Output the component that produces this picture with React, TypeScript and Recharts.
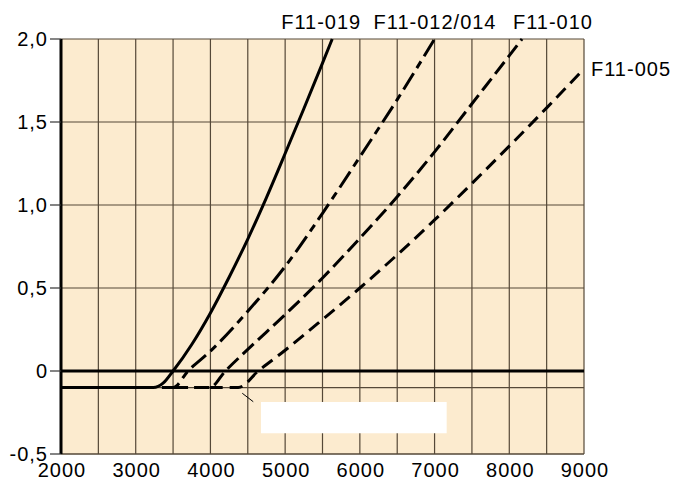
import React from 'react'
import { LineChart, Line, XAxis, YAxis, CartesianGrid, ReferenceLine, ReferenceArea } from 'recharts'

const xTicks = [2000, 2500, 3000, 3500, 4000, 4500, 5000, 5500, 6000, 6500, 7000, 7500, 8000, 8500, 9000]
const yTicks = [-0.5, -0.1, 0, 0.5, 1, 1.5, 2]

const f11_019 = [
  { x: 2000, y: -0.1 }, { x: 3235, y: -0.1 }, { x: 3370, y: -0.072 }, { x: 3500, y: 0 },
  { x: 3750, y: 0.16 }, { x: 4000, y: 0.35 }, { x: 4250, y: 0.565 }, { x: 4500, y: 0.795 },
  { x: 4750, y: 1.045 }, { x: 5000, y: 1.31 }, { x: 5250, y: 1.58 }, { x: 5500, y: 1.855 },
  { x: 5630, y: 2.0 },
]
const f11_012 = [
  { x: 3350, y: -0.1 }, { x: 3500, y: -0.1 }, { x: 3700, y: 0 }, { x: 4000, y: 0.12 },
  { x: 4500, y: 0.36 }, { x: 5000, y: 0.63 }, { x: 5500, y: 0.95 }, { x: 6000, y: 1.29 },
  { x: 6500, y: 1.635 }, { x: 7000, y: 2.0 },
]
const f11_010 = [
  { x: 3500, y: -0.1 }, { x: 3990, y: -0.1 }, { x: 4200, y: 0 }, { x: 4500, y: 0.13 },
  { x: 5000, y: 0.34 }, { x: 5500, y: 0.56 }, { x: 6000, y: 0.8 }, { x: 6500, y: 1.05 },
  { x: 7000, y: 1.32 }, { x: 7500, y: 1.61 }, { x: 8000, y: 1.9 }, { x: 8170, y: 2.0 },
]
const f11_005 = [
  { x: 3990, y: -0.1 }, { x: 4373, y: -0.1 }, { x: 4640, y: 0 }, { x: 5000, y: 0.125 },
  { x: 5500, y: 0.31 }, { x: 6000, y: 0.5 }, { x: 6500, y: 0.7 }, { x: 7000, y: 0.91 },
  { x: 7500, y: 1.13 }, { x: 8000, y: 1.355 }, { x: 8500, y: 1.585 }, { x: 9000, y: 1.82 },
]

const seriesNames = ['F11-019', 'F11-012/014', 'F11-010', 'F11-005']

const FONT = '"Liberation Sans", Arial, Helvetica, sans-serif'
const GRID = '#554838'

function YTick({ x, y, payload }: any) {
  const v = payload.value
  if (Math.abs(v + 0.1) < 1e-6) return <g />
  const label = v === 0 ? '0' : v.toFixed(1).replace('.', ',')
  return (
    <g>
      <line x1={x - 11} x2={x} y1={y} y2={y} stroke="#333" strokeWidth={1.2} />
      <text x={x - 13} y={y + 7} textAnchor="end" fontSize={20} fontFamily={FONT} letterSpacing={1} fill="#000">
        {label}
      </text>
    </g>
  )
}

function XTick({ x, y, payload }: any) {
  if (payload.value % 1000 !== 0) return <g />
  return (
    <text x={x + 1} y={y + 23} textAnchor="middle" fontSize={20} fontFamily={FONT} letterSpacing={1} fill="#000">
      {payload.value}
    </text>
  )
}

// label drawn next to the last point of a curve
function endLabel(text: string, count: number, dx: number, dy: number) {
  return (props: any) => {
    if (props.index !== count - 1) return <g key={text} />
    return (
      <text
        key={text}
        x={props.x + dx}
        y={props.y + dy}
        textAnchor="start"
        fontSize={20}
        fontFamily={FONT}
        letterSpacing={1}
        fill="#000"
      >
        {text}
      </text>
    )
  }
}

export default function App() {
  return (
    <div style={{ position: 'absolute', left: 0, top: 0, background: '#fff' }}>
      <LineChart width={687} height={480} margin={{ top: 39, right: 103, left: 0, bottom: 0 }}>
        <CartesianGrid stroke={GRID} strokeWidth={1.2} fill="#fcebcf" fillOpacity={1} />
        <XAxis
          type="number"
          dataKey="x"
          domain={[2000, 9000]}
          ticks={xTicks}
          interval={0}
          height={26}
          tickSize={0}
          tickMargin={0}
          tickLine={false}
          tick={<XTick />}
          axisLine={{ stroke: GRID, strokeWidth: 1.2 }}
          allowDuplicatedCategory={false}
        />
        <YAxis
          type="number"
          domain={[-0.5, 2]}
          ticks={yTicks}
          interval={0}
          width={61}
          tickSize={0}
          tickMargin={0}
          tickLine={false}
          tick={<YTick />}
          axisLine={{ stroke: '#000', strokeWidth: 3 }}
        />
        <ReferenceArea x1={4677} x2={7162} y1={-0.375} y2={-0.187} fill="#ffffff" fillOpacity={1} stroke="none" />
        <ReferenceLine
          segment={[{ x: 4426, y: -0.134 }, { x: 4573, y: -0.185 }]}
          stroke="#000"
          strokeWidth={1}
        />
        <ReferenceLine y={0} stroke="#000" strokeWidth={3} />
        <Line
          data={f11_019}
          dataKey="y"
          type="monotone"
          stroke="#000"
          strokeWidth={3}
          dot={false}
          isAnimationActive={false}
          label={endLabel(seriesNames[0], f11_019.length, -51, -10)}
        />
        <Line
          data={f11_012}
          dataKey="y"
          type="monotone"
          stroke="#000"
          strokeWidth={3}
          strokeDasharray="19 6 8 6"
          dot={false}
          isAnimationActive={false}
          label={endLabel(seriesNames[1], f11_012.length, -61, -10)}
        />
        <Line
          data={f11_010}
          dataKey="y"
          type="monotone"
          stroke="#000"
          strokeWidth={3}
          strokeDasharray="15 6"
          dot={false}
          isAnimationActive={false}
          label={endLabel(seriesNames[2], f11_010.length, -9, -10)}
        />
        <Line
          data={f11_005}
          dataKey="y"
          type="monotone"
          stroke="#000"
          strokeWidth={3}
          strokeDasharray="13 7"
          dot={false}
          isAnimationActive={false}
          label={endLabel(seriesNames[3], f11_005.length, 7, 7)}
        />
      </LineChart>
    </div>
  )
}
